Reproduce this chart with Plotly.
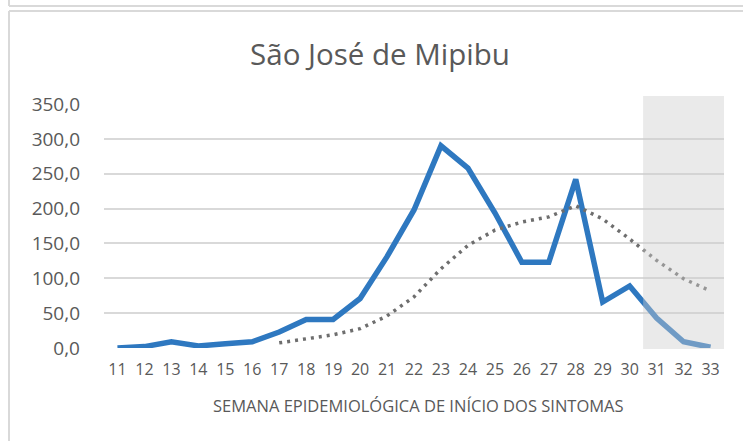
import plotly.graph_objects as go

weeks = list(range(11, 34))
week_labels = [str(w) for w in weeks]
cases = [0, 2, 9, 3, 6, 9, 23, 41, 41, 71, 131, 198, 290, 258, 194, 123, 123, 242, 66, 89, 43, 9, 1]
trend_weeks = list(range(17, 34))
trend = [7.4, 13.3, 18.9, 27.7, 46.0, 73.4, 113.6, 147.1, 169.0, 180.7, 188.1, 204.0, 185.1, 156.4, 125.7, 99.3, 81.9]
y_ticks = [0, 50, 100, 150, 200, 250, 300, 350]

W, H = 743, 441
L, R = 104, 724
T, B = 104, 348

def px(x):
    return (x - L) / (R - L)

def py(y):
    return (B - y) / (B - T)

fig = go.Figure()
fig.add_trace(go.Scatter(x=weeks, y=cases, mode="lines",
                         line=dict(color="#2E78C0", width=5.5), showlegend=False))
fig.add_trace(go.Scatter(x=trend_weeks, y=trend, mode="lines",
                         line=dict(color="#6E6E6E", width=3.5, dash="3px,5px"), showlegend=False))

shapes = [
    dict(type="rect", xref="paper", yref="paper", x0=20/23, x1=1.0, y0=py(349), y1=py(96),
         fillcolor="rgba(205,205,205,0.42)", line=dict(width=0), layer="above"),
    dict(type="line", xref="paper", yref="paper", x0=px(9), x1=px(9), y0=py(-2), y1=py(6),
         line=dict(color="#D9D9D9", width=2)),
    dict(type="line", xref="paper", yref="paper", x0=px(9), x1=px(745), y0=py(6), y1=py(6),
         line=dict(color="#D9D9D9", width=2)),
    dict(type="line", xref="paper", yref="paper", x0=px(9), x1=px(9), y0=py(11), y1=py(445),
         line=dict(color="#D9D9D9", width=2)),
    dict(type="line", xref="paper", yref="paper", x0=px(9), x1=px(745), y0=py(11), y1=py(11),
         line=dict(color="#D9D9D9", width=2)),
]

fig.update_layout(
    width=W, height=H,
    margin=dict(l=L, r=W - R, t=T, b=H - B),
    paper_bgcolor="white", plot_bgcolor="white",
    separators=",.",
    font=dict(family="Open Sans", color="#595959"),
    title=dict(text="São José de Mipibu", x=380 / W, xanchor="center",
               y=1 - 55 / H, yanchor="middle", yref="container",
               font=dict(family="Open Sans", size=29.5, color="#595959")),
    shapes=shapes,
    annotations=[dict(text="SEMANA EPIDEMIOLÓGICA DE INÍCIO DOS SINTOMAS", xref="paper", yref="paper",
                      x=px(418), y=py(405), xanchor="center", yanchor="middle", showarrow=False,
                      font=dict(family="Open Sans", size=16.5, color="#595959"))],
    xaxis=dict(range=[10.5, 33.5], tickmode="array", tickvals=weeks, ticktext=week_labels,
               tickangle=0, showgrid=False, zeroline=False, showline=False, ticks="",
               ticklabelstandoff=10,
               tickfont=dict(size=16, color="#595959"), fixedrange=True),
    yaxis=dict(range=[0, 350], tickmode="array", tickvals=y_ticks, tickformat=".1f",
               showgrid=True, gridcolor="#D9D9D9", gridwidth=1.5, zeroline=False, showline=False,
               ticks="", ticklabelstandoff=23,
               tickfont=dict(size=19, color="#595959"), fixedrange=True),
)

fig.write_html("out.html", config={"displayModeBar": False},
               post_script="document.body.style.margin='0';document.body.style.overflow='hidden';")
